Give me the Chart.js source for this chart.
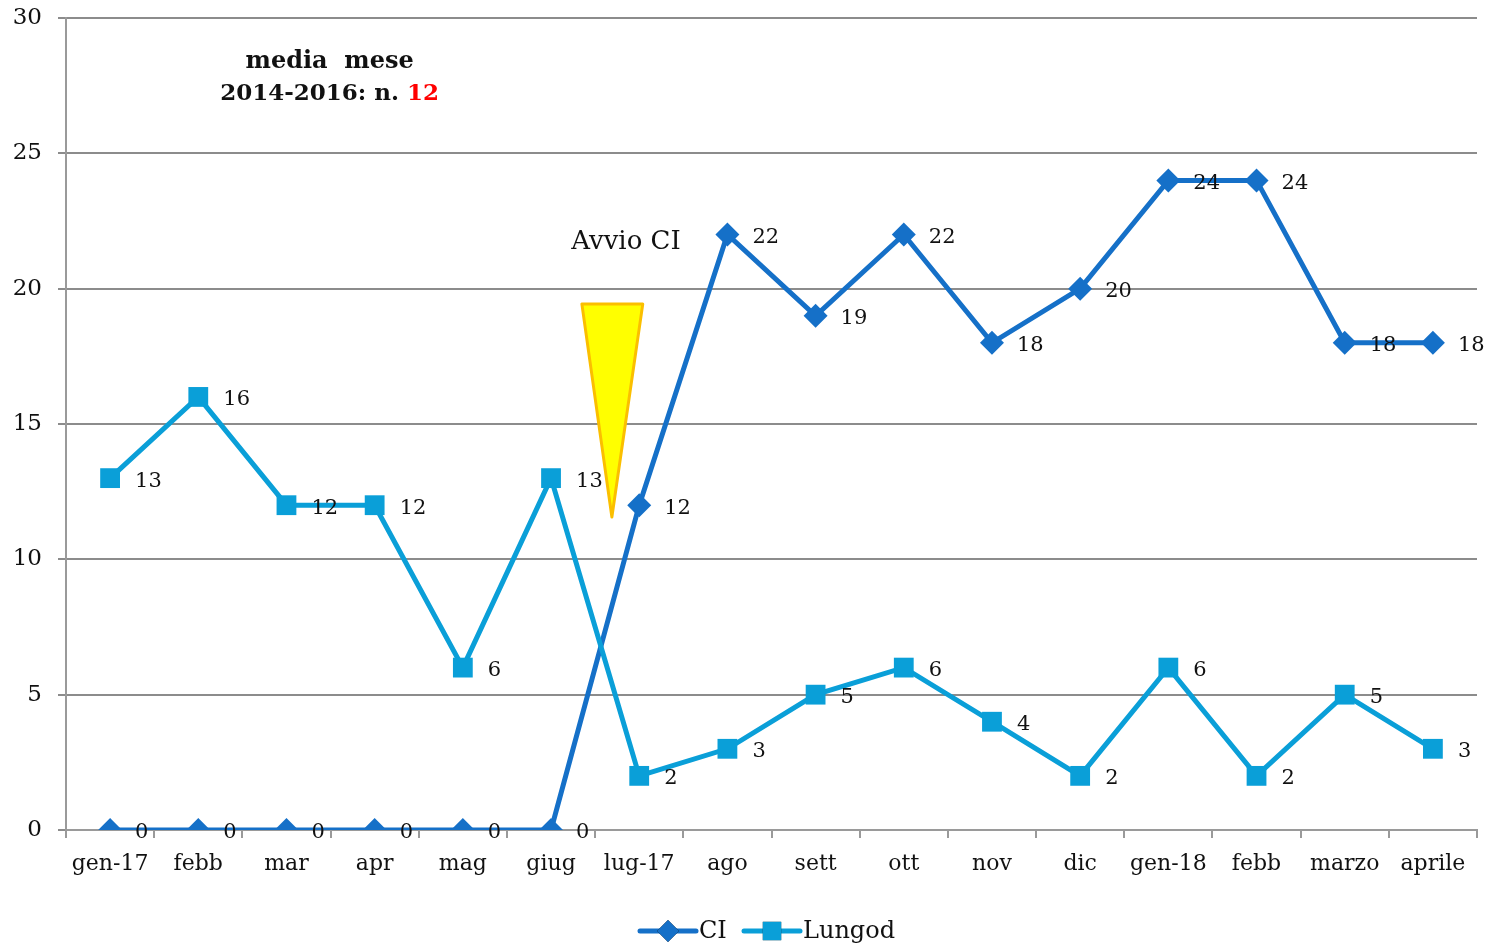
<!DOCTYPE html>
<html>
<head>
<meta charset="utf-8">
<script src="https://cdn.jsdelivr.net/npm/chart.js@4.4.1/dist/chart.umd.min.js"></script>
<style>
  html, body { margin: 0; padding: 0; background: #fff; }
  #wrap { width: 1487px; height: 947px; }
</style>
</head>
<body>
<div id="wrap"><canvas id="chart" width="1487" height="947"></canvas></div>
<script>
// ===== Data =====
const months = ['gen-17', 'febb', 'mar', 'apr', 'mag', 'giug', 'lug-17', 'ago', 'sett', 'ott', 'nov', 'dic', 'gen-18', 'febb', 'marzo', 'aprile'];
const ciValues = [0, 0, 0, 0, 0, 0, 12, 22, 19, 22, 18, 20, 24, 24, 18, 18];
const lungodValues = [13, 16, 12, 12, 6, 13, 2, 3, 5, 6, 4, 2, 6, 2, 5, 3];
const yTicks = [0, 5, 10, 15, 20, 25, 30];

const CI_COLOR = '#1570c8';
const LUNGOD_COLOR = '#0a9fd8';
const FONT = "'DejaVu Serif', Georgia, serif";

// ===== Overlay: labels, notes, arrow, legend =====
const overlay = {
    id: 'overlay',
    afterDatasetsDraw(chart) {
        const ctx = chart.ctx;
        const xs = chart.scales.x;
        const ys = chart.scales.y;

        // value labels right of each point
        ctx.save();
        ctx.font = '21px ' + FONT;
        ctx.fillStyle = '#111';
        ctx.textAlign = 'left';
        ctx.textBaseline = 'middle';
        chart.data.datasets.forEach((ds, i) => {
            const meta = chart.getDatasetMeta(i);
            meta.data.forEach((pt, j) => {
                ctx.fillText(String(ds.data[j]), pt.x + 25, pt.y + 3);
            });
        });
        ctx.restore();

        // yellow arrow "Avvio CI"
        const step = xs.getPixelForValue(1) - xs.getPixelForValue(0);
        const x0 = xs.getPixelForValue(0);
        const left = x0 + step * 5.35, right = x0 + step * 6.04, tip = x0 + step * 5.69;
        const top = ys.getPixelForValue(19.43), bottom = ys.getPixelForValue(11.56);
        ctx.save();
        ctx.beginPath();
        ctx.moveTo(left, top);
        ctx.lineTo(right, top);
        ctx.lineTo(tip, bottom);
        ctx.closePath();
        ctx.fillStyle = '#ffff00';
        ctx.fill();
        ctx.lineWidth = 3;
        ctx.lineJoin = 'round';
        ctx.strokeStyle = '#fbbf00';
        ctx.stroke();

        ctx.font = '26px ' + FONT;
        ctx.fillStyle = '#111';
        ctx.textAlign = 'center';
        ctx.textBaseline = 'middle';
        ctx.fillText('Avvio CI', x0 + step * 5.85, ys.getPixelForValue(21.7));

        // note box top-left
        const cx = x0 + step * 2.49;
        ctx.font = 'bold 24px ' + FONT;
        ctx.fillText('media  mese', cx, ys.getPixelForValue(28.4));
        ctx.font = 'bold 23px ' + FONT;
        const part1 = '2014-2016: n. ';
        const part2 = '12';
        const w1 = ctx.measureText(part1).width;
        const w2 = ctx.measureText(part2).width;
        const sx = cx - (w1 + w2) / 2;
        const ly = ys.getPixelForValue(27.2);
        ctx.textAlign = 'left';
        ctx.fillText(part1, sx, ly);
        ctx.fillStyle = '#ff0000';
        ctx.fillText(part2, sx + w1, ly);
        ctx.restore();
    },
    afterDraw(chart) {
        // custom legend with line + marker
        const ctx = chart.ctx;
        const y = 931;
        const items = [
            { text: 'CI', color: CI_COLOR, style: 'rectRot', r: 11, x: 640 },
            { text: 'Lungod', color: LUNGOD_COLOR, style: 'rect', r: 13, x: 744 }
        ];
        ctx.save();
        ctx.font = '24px ' + FONT;
        ctx.textBaseline = 'middle';
        items.forEach(it => {
            ctx.strokeStyle = it.color;
            ctx.lineWidth = 5;
            ctx.lineCap = 'round';
            ctx.beginPath();
            ctx.moveTo(it.x, y);
            ctx.lineTo(it.x + 56, y);
            ctx.stroke();
            Chart.helpers.drawPoint(ctx, { pointStyle: it.style, radius: it.r, borderWidth: 0 }, it.x + 28, y);
            ctx.fillStyle = it.color;
            ctx.fill();
            ctx.fillStyle = '#111';
            ctx.fillText(it.text, it.x + 59, y + 1);
        });
        ctx.restore();
    }
};

// ===== Chart =====
const ctx = document.getElementById('chart').getContext('2d');
new Chart(ctx, {
    type: 'line',
    data: {
        labels: months,
        datasets: [
            {
                label: 'CI',
                data: ciValues,
                borderColor: CI_COLOR,
                backgroundColor: CI_COLOR,
                borderWidth: 5,
                pointStyle: 'rectRot',
                pointRadius: 12,
                pointBorderWidth: 0,
                tension: 0,
                order: 1
            },
            {
                label: 'Lungod',
                data: lungodValues,
                borderColor: LUNGOD_COLOR,
                backgroundColor: LUNGOD_COLOR,
                borderWidth: 5,
                pointStyle: 'rect',
                pointRadius: 14,
                pointBorderWidth: 0,
                tension: 0,
                order: 0
            }
        ]
    },
    options: {
        responsive: false,
        animation: false,
        layout: { padding: { top: 18, right: 10, left: 0, bottom: 0 } },
        plugins: {
            legend: { display: false },
            tooltip: { enabled: false }
        },
        scales: {
            x: {
                offset: true,
                grid: {
                    offset: true,
                    drawOnChartArea: false,
                    color: '#9a9a9a',
                    lineWidth: 2,
                    tickLength: 8
                },
                border: { color: '#9a9a9a', width: 2 },
                ticks: {
                    font: { family: FONT, size: 22 },
                    color: '#111',
                    padding: 13,
                    maxRotation: 0,
                    autoSkip: false
                },
                afterFit(scale) {
                    scale.height = 117;
                    scale.paddingLeft = 0;
                    scale.paddingRight = 0;
                }
            },
            y: {
                min: 0,
                max: 30,
                afterBuildTicks(scale) { scale.ticks = yTicks.map(v => ({ value: v })); },
                grid: {
                    color: '#8c8c8c',
                    lineWidth: 2,
                    tickLength: 8
                },
                border: { color: '#9a9a9a', width: 2 },
                ticks: {
                    font: { family: FONT, size: 23 },
                    color: '#111',
                    padding: 16
                },
                afterFit(scale) {
                    scale.width = 66;
                    scale.paddingTop = 0;
                    scale.paddingBottom = 0;
                    scale.paddingLeft = 0;
                    scale.paddingRight = 0;
                }
            }
        }
    },
    plugins: [overlay, {
        // stretch the plot area to the reference's right edge
        id: 'rightEdge',
        afterLayout(chart) {
            const target = chart.width - 10;
            if (chart.chartArea.right < target) {
                chart.chartArea.right = target;
                chart.chartArea.width = target - chart.chartArea.left;
                const xs = chart.scales.x;
                xs.right = target;
                xs.width = target - xs.left;
                xs.configure();
                const ys = chart.scales.y;
                ys.configure();
            }
        }
    }]
});
</script>
</body>
</html>
